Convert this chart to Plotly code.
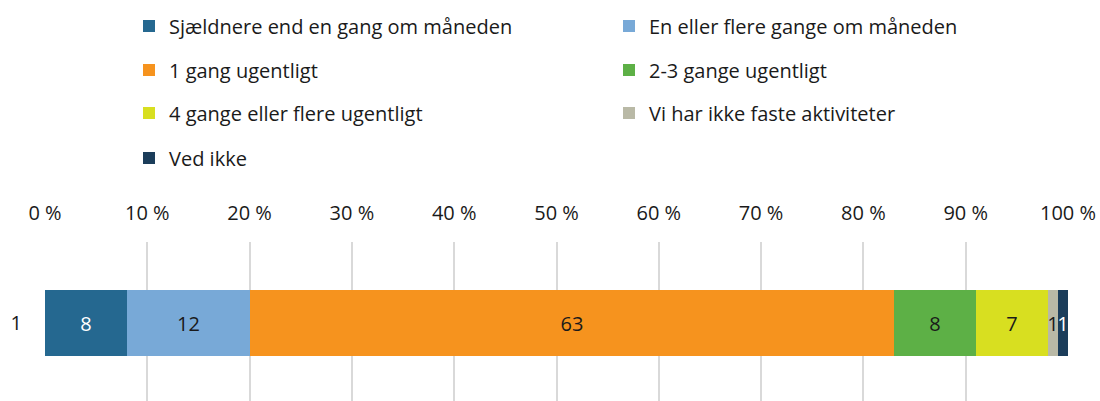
import plotly.graph_objects as go

categories = ["1"]
series_names = [
    "Sjældnere end en gang om måneden",
    "En eller flere gange om måneden",
    "1 gang ugentligt",
    "2-3 gange ugentligt",
    "4 gange eller flere ugentligt",
    "Vi har ikke faste aktiviteter",
    "Ved ikke",
]
series_values = [8, 12, 63, 8, 7, 1, 1]
colors = ["#256890", "#78A9D7", "#F6931E", "#5DB046", "#D8DF20", "#B9B9A6", "#1B3D5A"]
text_colors = ["white", "#1a1a1a", "#1a1a1a", "#1a1a1a", "#1a1a1a", "#1a1a1a", "white"]
tick_vals = [0, 10, 20, 30, 40, 50, 60, 70, 80, 90, 100]
tick_text = [f"{v} %" for v in tick_vals]

FONT = "Open Sans"
FS = 20
W, H = 1100, 401

PLOT_TOP = 242
PLOT_H = H - PLOT_TOP
BAR_PX = 66
bar_center_from_bottom = H - 323
lo = -bar_center_from_bottom / PLOT_H

fig = go.Figure()
legend_ids = ["legend", "legend", "legend2", "legend2", "legend3", "legend3", "legend4"]
for i, (name, val) in enumerate(zip(series_names, series_values)):
    fig.add_trace(go.Bar(
        y=categories, x=[val], name=name, orientation="h",
        marker=dict(color=colors[i], line=dict(width=0)),
        text=[str(val)], textposition="inside", insidetextanchor="middle",
        constraintext="none",
        textfont=dict(color=text_colors[i], size=FS, family=FONT),
        width=BAR_PX / PLOT_H, legend=legend_ids[i], hoverinfo="name+x",
    ))

row_y = [26, 70, 113, 158]
legend_common = dict(
    orientation="h", xref="container", yref="container",
    x=129 / W, xanchor="left", yanchor="middle",
    entrywidth=435, entrywidthmode="pixels",
    font=dict(size=FS, family=FONT, color="#1a1a1a"),
    bgcolor="rgba(0,0,0,0)", borderwidth=0, traceorder="normal",
    itemclick=False,
)
layout_legends = {}
for k, lid in enumerate(["legend", "legend2", "legend3", "legend4"]):
    layout_legends[lid] = dict(legend_common, y=1 - row_y[k] / H)

fig.update_layout(
    width=W, height=H,
    barmode="stack",
    plot_bgcolor="white", paper_bgcolor="white",
    margin=dict(l=45, r=W - 1068, t=PLOT_TOP, b=0, pad=0, autoexpand=False),
    bargap=0,
    showlegend=True,
    font=dict(family=FONT, size=FS, color="#1a1a1a"),
    xaxis=dict(
        side="top", range=[0, 100], tickvals=tick_vals, ticktext=tick_text,
        showgrid=True, gridcolor="#D9D9D9", gridwidth=2,
        zeroline=False, showline=False, ticks="",
        ticklabelstandoff=17, automargin=False,
        tickfont=dict(size=FS, family=FONT, color="#1a1a1a"),
        fixedrange=True,
    ),
    yaxis=dict(
        range=[lo, lo + 1], showgrid=False, zeroline=False, showline=False,
        ticks="", ticklabelstandoff=22, automargin=False,
        tickfont=dict(size=FS, family=FONT, color="#1a1a1a"),
        fixedrange=True,
    ),
    **layout_legends,
)

fig.write_html(
    "out.html",
    config={"displayModeBar": False},
    post_script="document.body.style.margin='0';document.body.style.overflow='hidden';",
)
